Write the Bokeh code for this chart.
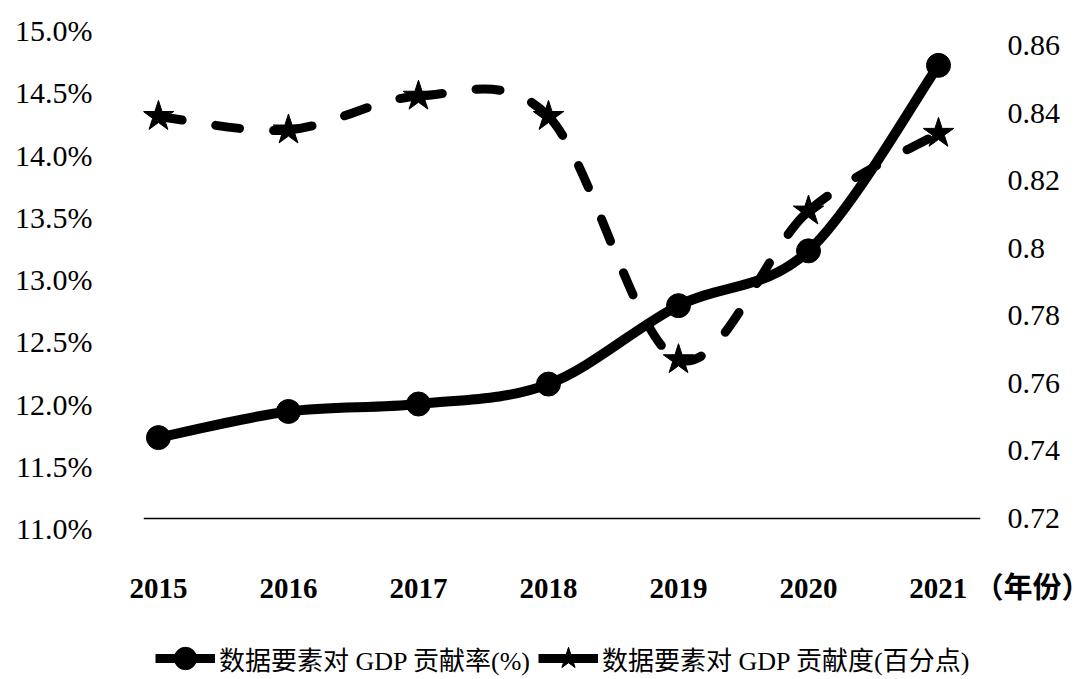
import numpy as np
from bokeh.plotting import figure
from bokeh.layouts import column
from bokeh.models import (Range1d, LinearAxis, FixedTicker, Span, Legend,
                          LegendItem, CustomJSTickFormatter)
from bokeh.embed import file_html
from bokeh.resources import INLINE

# ---------------- data ----------------
years = [2015, 2016, 2017, 2018, 2019, 2020, 2021]
rate_pct = [11.73, 11.94, 12.00, 12.16, 12.79, 13.23, 14.72]      # 数据要素对GDP贡献率(%)
degree_pp = [0.839, 0.835, 0.845, 0.839, 0.767, 0.811, 0.834]     # 数据要素对GDP贡献度(百分点)
left_ticks = [11.0, 11.5, 12.0, 12.5, 13.0, 13.5, 14.0, 14.5, 15.0]
right_ticks = [0.72, 0.74, 0.76, 0.78, 0.80, 0.82, 0.84, 0.86]
series_names = ["数据要素对 GDP 贡献率(%)", "数据要素对 GDP 贡献度(百分点)"]
x_unit = "（年份）"

SERIF = "Liberation Serif"
MIXED = "Liberation Serif, Noto Sans CJK SC"
NBSP = "\u00a0"
W = 1090
H_CHART = 623
H_LEGEND = 679 - H_CHART


def bezier_segments(xs, ys):
    """Catmull-Rom smoothing expressed as cubic Bezier control points."""
    out = {}
    for key, v in (("x", xs), ("y", ys)):
        a = np.asarray(v, dtype=float)
        n = len(a)
        pad = np.concatenate([[a[0]], a, [a[-1]]])
        out[key + "0"] = pad[1:n]
        out[key + "1"] = pad[2:n + 1]
        out["c" + key + "0"] = pad[1:n] + (pad[2:n + 1] - pad[0:n - 1]) / 6.0
        out["c" + key + "1"] = pad[2:n + 1] - (pad[3:n + 2] - pad[1:n]) / 6.0
    return out


p = figure(width=W, height=H_CHART,
           x_range=Range1d(2014.885, 2021.323),
           y_range=Range1d(11.0, 15.0),
           output_backend="svg", toolbar_location=None,
           min_border_left=143, min_border_right=110,
           min_border_top=30, min_border_bottom=H_CHART - 528,
           background_fill_color="white", border_fill_color="white",
           outline_line_color=None)
p.grid.visible = False
p.extra_y_ranges = {"right": Range1d(0.71704, 0.86444)}

# left axis
ly = p.yaxis[0]
ly.ticker = FixedTicker(ticks=left_ticks)
ly.formatter = CustomJSTickFormatter(code="return tick.toFixed(1) + '%';")
# right axis
ry = LinearAxis(y_range_name="right", ticker=FixedTicker(ticks=right_ticks),
                formatter=CustomJSTickFormatter(code="return String(parseFloat(tick.toFixed(2)));"))
p.add_layout(ry, "right")

for ax, standoff in ((ly, 51), (ry, 27)):
    ax.axis_line_color = None
    ax.major_tick_line_color = None
    ax.minor_tick_line_color = None
    ax.major_tick_out = 0
    ax.major_label_standoff = standoff
    ax.major_label_text_font = SERIF
    ax.major_label_text_font_size = "30px"
    ax.major_label_text_color = "black"

# x axis: the unit "（年份）" follows the last year label; the label is padded on
# the left with the same width so that the year itself stays centred on its tick
suffix = NBSP + x_unit
pad = NBSP * int(round((0.25 + len(x_unit)) / 0.25))
last_label = pad + str(years[-1]) + suffix
xa = p.xaxis[0]
xa.ticker = FixedTicker(ticks=years)
xa.formatter = CustomJSTickFormatter(
    args=dict(last=years[-1], last_label=last_label),
    code="return (Math.round(tick) === last) ? last_label : tick.toFixed(0);")
xa.axis_line_color = None
xa.major_tick_line_color = None
xa.minor_tick_line_color = None
xa.major_tick_out = 0
xa.major_label_standoff = 43
xa.major_label_text_font = MIXED
xa.major_label_text_font_size = "29px"
xa.major_label_text_font_style = "bold"
xa.major_label_text_color = "black"

# baseline
p.add_layout(Span(location=0.72, dimension="width", y_range_name="right",
                  line_color="black", line_width=1.5))

# dashed series (right axis)
seg2 = bezier_segments(years, degree_pp)
p.bezier(x0=seg2["x0"], y0=seg2["y0"], x1=seg2["x1"], y1=seg2["y1"],
         cx0=seg2["cx0"], cy0=seg2["cy0"], cx1=seg2["cx1"], cy1=seg2["cy1"],
         y_range_name="right", line_color="black", line_width=9,
         line_dash="24 34", line_cap="round")
p.scatter(years, degree_pp, marker="star", size=32, y_range_name="right",
          fill_color="black", line_color="black")

# solid series (left axis)
seg1 = bezier_segments(years, rate_pct)
p.bezier(x0=seg1["x0"], y0=seg1["y0"], x1=seg1["x1"], y1=seg1["y1"],
         cx0=seg1["cx0"], cy0=seg1["cy0"], cx1=seg1["cx1"], cy1=seg1["cy1"],
         line_color="black", line_width=10, line_cap="round")
p.scatter(years, rate_pct, marker="circle", size=24,
          fill_color="black", line_color="black")

# ---------------- legend strip ----------------
q = figure(width=W, height=H_LEGEND, x_range=Range1d(0, 1), y_range=Range1d(0, 1),
           output_backend="svg", toolbar_location=None, min_border=0,
           x_axis_location=None, y_axis_location=None, outline_line_color=None,
           background_fill_color="white", border_fill_color="white")
q.grid.visible = False
# hidden proxies carrying the series data; the legend draws their swatches
l1 = q.line(years, rate_pct, line_color="black", line_width=9, visible=False)
m1 = q.scatter(years, rate_pct, marker="circle", fill_color="black",
               line_color="black", visible=False)
l2 = q.line(years, degree_pp, line_color="black", line_width=9, visible=False)
m2 = q.scatter(years, degree_pp, marker="star", fill_color="black",
               line_color="black", visible=False)

legend = Legend(items=[LegendItem(label=series_names[0], renderers=[l1, m1]),
                       LegendItem(label=series_names[1], renderers=[l2, m2])],
                orientation="horizontal", location=(12, -7),
                padding=0, margin=0, spacing=8,
                glyph_width=60, glyph_height=56, label_standoff=4,
                label_text_font=MIXED, label_text_font_size="26px",
                label_text_color="black",
                border_line_color=None, background_fill_alpha=0)
q.add_layout(legend)

layout = column(p, q, spacing=0)
open("out.html", "w").write(file_html(layout, INLINE))
